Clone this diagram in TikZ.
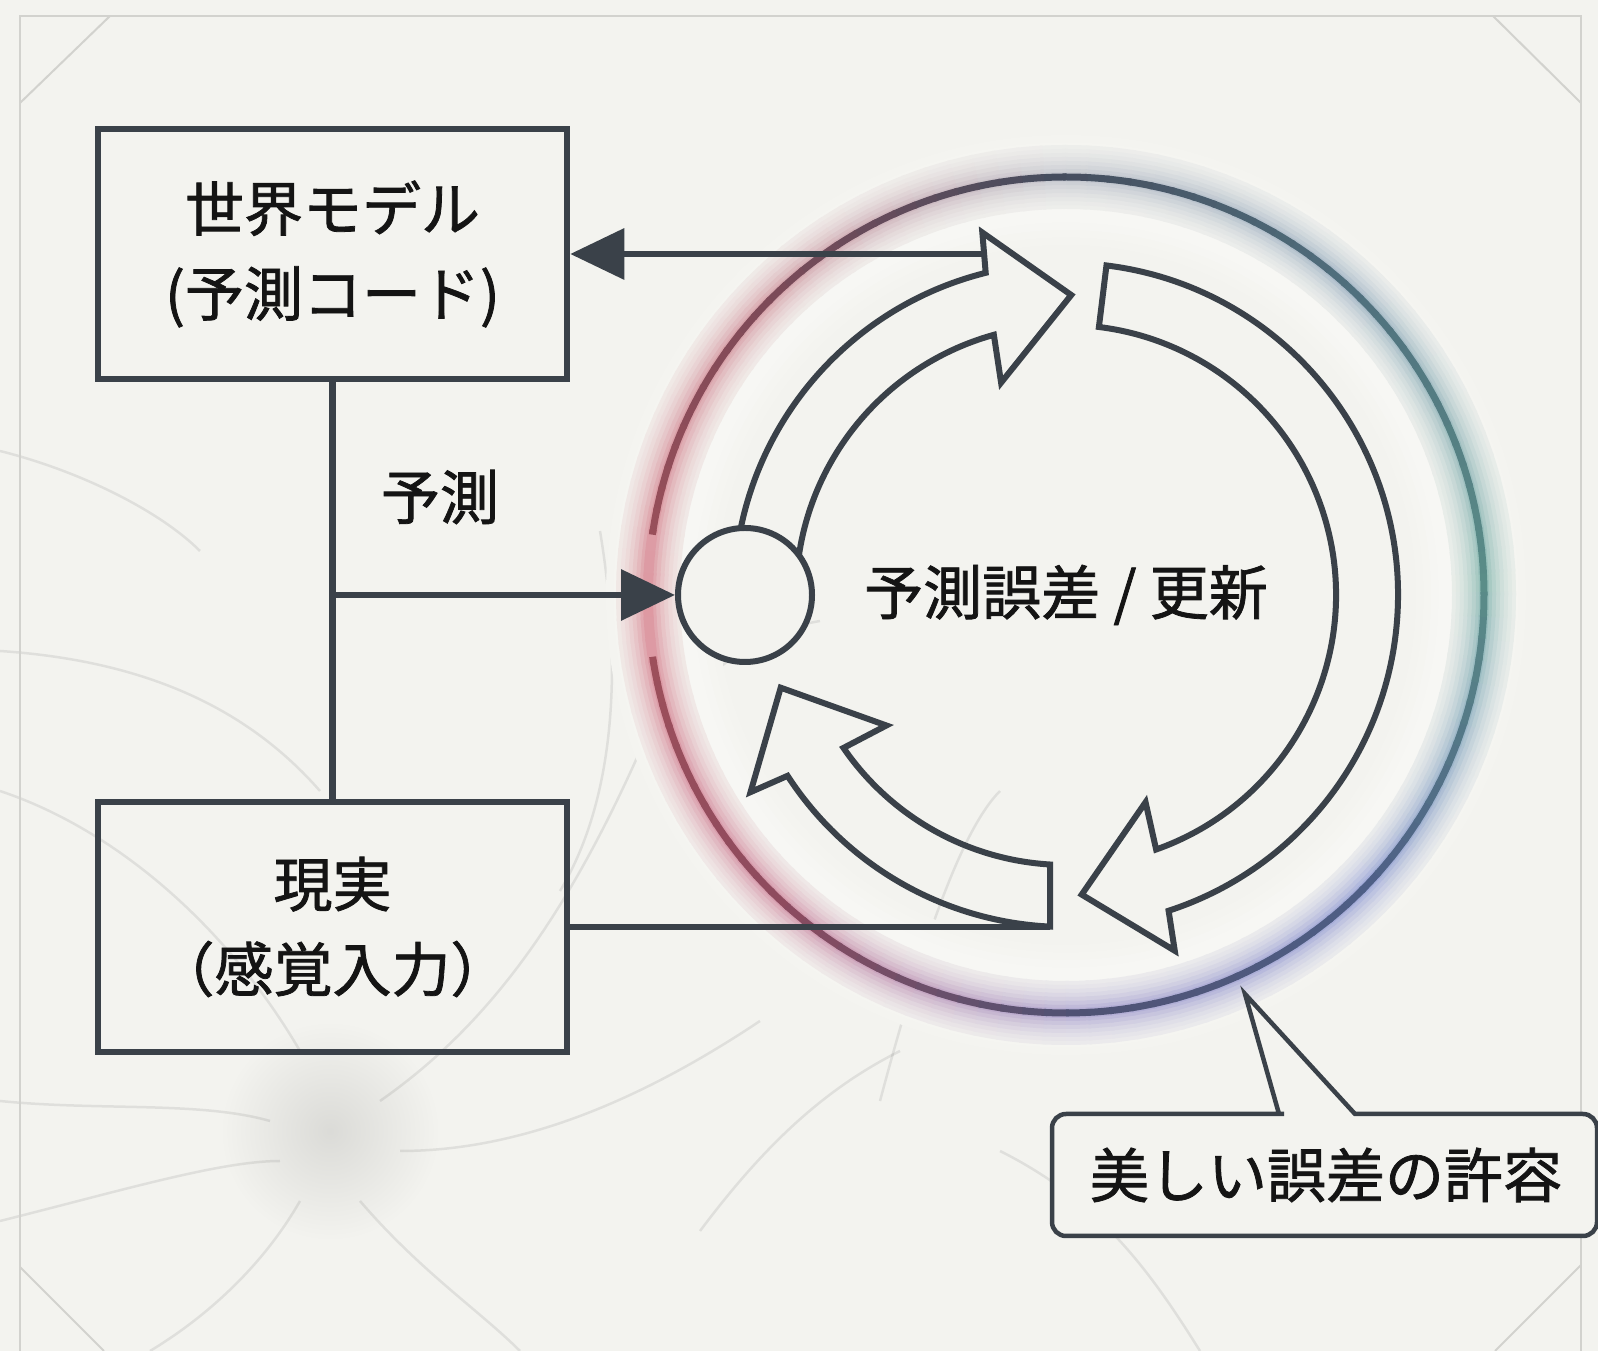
\documentclass[tikz,border=0pt]{standalone}
\usepackage{fontspec}
\setmainfont{Noto Sans CJK JP}
\newfontfamily\medf{Noto Sans CJK JP}[FakeBold=1.3]
\usetikzlibrary{arrows.meta,calc}
\definecolor{bgc}{HTML}{F3F3EF}
\definecolor{ink}{HTML}{3A4149}
\definecolor{txt}{HTML}{141414}
\definecolor{framec}{HTML}{D2D2CE}
\definecolor{c0}{HTML}{5A8D88}
\definecolor{c1}{HTML}{50707E}
\definecolor{c2}{HTML}{454D5E}
\definecolor{c3}{HTML}{7E4A58}
\definecolor{c4}{HTML}{A0505A}
\definecolor{c5}{HTML}{8E4B5E}
\definecolor{c6}{HTML}{4F5274}
\definecolor{c7}{HTML}{4E5F86}
\definecolor{g0}{HTML}{4F9A90}
\definecolor{g1}{HTML}{7090AC}
\definecolor{g2}{HTML}{A4A8B8}
\definecolor{g3}{HTML}{C26878}
\definecolor{g4}{HTML}{CC5064}
\definecolor{g5}{HTML}{C0587A}
\definecolor{g6}{HTML}{8478C0}
\definecolor{g7}{HTML}{6474C8}
\begin{document}
\begin{tikzpicture}[x=1pt,y=1pt,
  box/.style={draw=ink, line width=6.5pt, fill=none, minimum width=469pt, minimum height=250pt, align=center, inner sep=0pt},
  lbl/.style={text=txt, font=\medf\fontsize{59}{85}\selectfont, align=center, inner sep=0pt},
  conn/.style={draw=ink, line width=6.5pt},
  harrow/.style={draw=ink, line width=6pt, line join=miter, fill=none},
  tri/.style={-{Triangle[length=54pt,width=50pt]}},
  bgline/.style={draw=black, opacity=0.08, line width=2.5pt}]
\useasboundingbox (0,0) rectangle (1598,1351);
\fill[bgc] (0,0) rectangle (1598,1351);

% faint neuron background
\shade[inner color=black!10!bgc, outer color=bgc] (330,220) circle (110);
\begin{scope}[bgline]
 \draw (0,560) .. controls (120,520) and (230,420) .. (300,300);
 \draw (0,700) .. controls (150,690) and (250,640) .. (320,560);
 \draw (0,250) .. controls (100,240) and (200,250) .. (270,230);
 \draw (0,130) .. controls (120,160) and (220,190) .. (280,190);
 \draw (380,250) .. controls (480,320) and (560,420) .. (640,600);
 \draw (400,200) .. controls (520,200) and (640,250) .. (760,330);
 \draw (360,150) .. controls (420,80) and (480,40) .. (520,0);
 \draw (300,150) .. controls (260,80) and (200,30) .. (150,0);
 \draw (640,600) .. controls (700,680) and (760,720) .. (820,730);
 \draw (560,460) .. controls (620,560) and (620,700) .. (600,820);
 \draw (880,250) .. controls (920,400) and (960,520) .. (1000,560);
 \draw (1200,0) .. controls (1150,80) and (1100,150) .. (1000,200);
 \draw (0,900) .. controls (80,880) and (160,840) .. (200,800);
 \draw (700,120) .. controls (760,200) and (820,260) .. (900,300);
\end{scope}

% frame
\begin{scope}[draw=framec, line width=2pt]
 \draw (20,-5) -- (20,1335) -- (1581,1335) -- (1581,-5);
 \draw (20,1248) -- (110,1335);
 \draw (1493,1335) -- (1581,1248);
 \draw (20,84) -- (104,0);
 \draw (1581,86) -- (1495,0);
\end{scope}

\coordinate (O) at (1066,756);
\def\Rr{418}

% soft light haze inside the ring
\foreach \w/\m in {110/8,95/15,80/22,65/30}{
 \draw[line width=\w pt, white!\m!bgc] (O) circle (405);
}

% glow of the ring
\foreach \w/\m in {64/7,56/11,48/16,40/22,32/29,24/37,16/46,10/55}{
 \foreach \k in {0,...,7}{
  \pgfmathtruncatemacro\kn{mod(\k+1,8)}
  \foreach \i in {0,3,...,42}{
   \pgfmathtruncatemacro\p{100-\i*100/45}
   \colorlet{tmpc}{g\k!\p!g\kn}
   \draw[line width=\w pt, tmpc!\m!bgc] ($(O)+(\k*45+\i:\Rr)$) arc[start angle=\k*45+\i, end angle=\k*45+\i+3.4, radius=\Rr];
  }
 }
}

% ring line with gap
\begin{scope}[even odd rule]
 \clip (0,0) rectangle (1598,1351) (O) -- ($(O)+(171.7:520)$) -- ($(O)+(188.5:520)$) -- cycle;
 \foreach \k in {0,...,7}{
  \pgfmathtruncatemacro\kn{mod(\k+1,8)}
  \foreach \i in {0,3,...,42}{
   \pgfmathtruncatemacro\p{100-\i*100/45}
   \colorlet{tmpc}{c\k!\p!c\kn}
   \draw[line width=7pt, tmpc] ($(O)+(\k*45+\i:\Rr)$) arc[start angle=\k*45+\i, end angle=\k*45+\i+3.4, radius=\Rr];
  }
 }
\end{scope}

% nodes
\node[box] (wm) at (332.5,1097) {};
\node[lbl] (wmt) at (wm.center) {世界モデル\\(予測コード)};
\node[box] (re) at (332.5,424) {};
\node[lbl] (ret) at (re.center) {現実\\（感覚入力）};
\node[lbl] (pred) at (440,854) {予測};
\node[lbl] (err) at (O) {予測誤差 / 更新};

% hollow arrows
\begin{scope}[shift={(O)}]
 \draw[harrow] (180:332) arc[start angle=180, end angle=104, radius=332] -- (103:372) -- (89:300) -- (107:222) -- (105.5:270) arc[start angle=105.5, end angle=180, radius=270] -- cycle;
 \draw[harrow] (83:270) -- (83:332) arc[start angle=83, end angle=-72, radius=332] -- (-73:372) -- (-87:300) -- (-69:222) -- (-70.5:270) arc[start angle=-70.5, end angle=83, radius=270] -- cycle;
 \draw[harrow] (266.6:270) -- (267.24:332) arc[start angle=267.24, end angle=213, radius=332] -- (212:372) -- (198:300) -- (216:222) -- (214.5:270) arc[start angle=214.5, end angle=266.6, radius=270] -- cycle;
\end{scope}

\node[circle, draw=ink, line width=6pt, fill=bgc, minimum size=134pt, inner sep=0pt] (sc) at (745,756) {};

% connectors
\coordinate (J) at (332.5,756);
\coordinate (Aback) at (984,1097);
\coordinate (Cend) at (1050,424);
\draw[conn] (wm.south) -- (re.north);
\draw[conn, tri] (J) -- (sc.west);
\draw[conn, {Triangle[length=54pt,width=50pt]}-] (wm.east) -- (Aback);
\draw[conn] (re.east) -- (Cend);

% callout
\draw[draw=ink, line width=4.5pt, fill=bgc] (1279,237) -- (1245,357) -- (1355,237) [rounded corners=14pt] -- (1597,237) -- (1597,115) -- (1052,115) -- (1052,237) -- (1270,237) [sharp corners] -- cycle;
\node[lbl] (co) at (1326,176) {美しい誤差の許容};
\end{tikzpicture}
\end{document}
